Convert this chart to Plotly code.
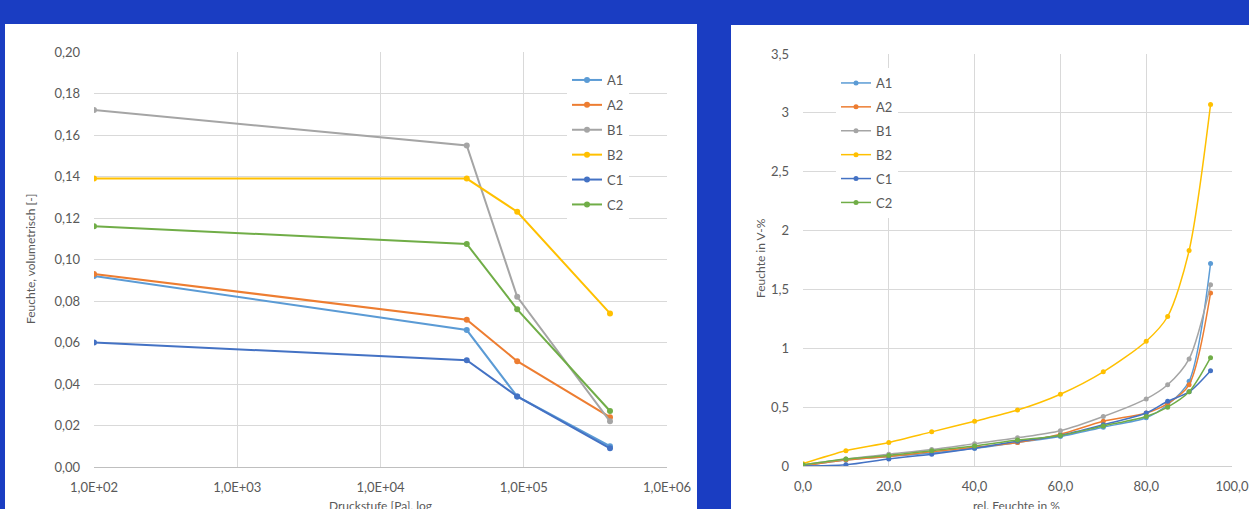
import plotly.graph_objects as go

W, H = 1249, 509

series_names = ["A1", "A2", "B1", "B2", "C1", "C2"]
series_colors = ["#5B9BD5", "#ED7D31", "#A5A5A5", "#FFC000", "#4472C4", "#70AD47"]

# Left chart: volumetric moisture vs. pressure step (log scale)
pressure_pa = [100, 40000, 90000, 400000]
a1_vol = [0.092, 0.066, 0.034, 0.010]
a2_vol = [0.093, 0.071, 0.051, 0.024]
b1_vol = [0.172, 0.155, 0.082, 0.022]
b2_vol = [0.139, 0.139, 0.123, 0.074]
c1_vol = [0.060, 0.0515, 0.034, 0.009]
c2_vol = [0.116, 0.1075, 0.076, 0.027]

# Right chart: moisture in V-% vs. relative humidity
rel_humidity = [0, 10, 20, 30, 40, 50, 60, 70, 80, 85, 90, 95]
a1_vpct = [0.00, 0.05, 0.08, 0.11, 0.15, 0.20, 0.25, 0.33, 0.41, 0.52, 0.72, 1.72]
a2_vpct = [0.00, 0.05, 0.08, 0.12, 0.16, 0.20, 0.27, 0.38, 0.45, 0.53, 0.69, 1.47]
b1_vpct = [0.01, 0.06, 0.10, 0.14, 0.19, 0.24, 0.30, 0.42, 0.57, 0.69, 0.91, 1.54]
b2_vpct = [0.02, 0.13, 0.20, 0.29, 0.38, 0.475, 0.61, 0.80, 1.06, 1.27, 1.83, 3.07]
c1_vpct = [0.00, 0.01, 0.06, 0.10, 0.15, 0.21, 0.26, 0.35, 0.45, 0.55, 0.63, 0.81]
c2_vpct = [0.01, 0.06, 0.09, 0.13, 0.17, 0.22, 0.26, 0.34, 0.42, 0.50, 0.63, 0.92]

# Tick labels
left_x_ticks = [1e2, 1e3, 1e4, 1e5, 1e6]
left_x_labels = ["1,0E+02", "1,0E+03", "1,0E+04", "1,0E+05", "1,0E+06"]
left_y_ticks = [0.00, 0.02, 0.04, 0.06, 0.08, 0.10, 0.12, 0.14, 0.16, 0.18, 0.20]
left_y_labels = ["0,00", "0,02", "0,04", "0,06", "0,08", "0,10", "0,12", "0,14", "0,16", "0,18", "0,20"]
right_x_ticks = [0, 20, 40, 60, 80, 100]
right_x_labels = ["0,0", "20,0", "40,0", "60,0", "80,0", "100,0"]
right_y_ticks = [0, 0.5, 1, 1.5, 2, 2.5, 3, 3.5]
right_y_labels = ["0", "0,5", "1", "1,5", "2", "2,5", "3", "3,5"]

left_series = [a1_vol, a2_vol, b1_vol, b2_vol, c1_vol, c2_vol]
right_series = [a1_vpct, a2_vpct, b1_vpct, b2_vpct, c1_vpct, c2_vpct]

TEXT = "#595959"
GRID = "#d9d9d9"
FONT = "Lato"
BG_BLUE = "#1a3dc2"

fig = go.Figure()

for name, color, vals in zip(series_names, series_colors, left_series):
    fig.add_trace(go.Scatter(
        x=pressure_pa, y=vals, name=name, mode="lines+markers",
        line=dict(color=color, width=2), marker=dict(color=color, size=6),
        xaxis="x", yaxis="y", legend="legend", legendgroup="L" + name,
    ))

for name, color, vals in zip(series_names, series_colors, right_series):
    fig.add_trace(go.Scatter(
        x=rel_humidity, y=vals, name=name, mode="lines+markers",
        line=dict(color=color, width=1.5, shape="spline", smoothing=0.8),
        marker=dict(color=color, size=5),
        xaxis="x2", yaxis="y2", legend="legend2", legendgroup="R" + name,
    ))


def px_x(p):
    return p / W


def px_y(p):
    return 1 - p / H


axis_common = dict(
    showgrid=True, gridcolor=GRID, gridwidth=1, zeroline=False, ticks="",
    tickfont=dict(family=FONT, size=13, color=TEXT), fixedrange=True,
    automargin=False, ticklabeloverflow="allow",
)

fig.update_layout(
    width=W, height=H,
    margin=dict(l=0, r=0, t=0, b=0, autoexpand=False),
    paper_bgcolor=BG_BLUE,
    plot_bgcolor="white",
    font=dict(family=FONT, color=TEXT),
    xaxis=dict(
        domain=[px_x(94), px_x(667)], anchor="y", type="log", range=[2, 6],
        tickvals=left_x_ticks, ticktext=left_x_labels,
        showline=True, linecolor="#bfbfbf", linewidth=1,
        ticklabelstandoff=8, **axis_common,
    ),
    yaxis=dict(
        domain=[px_y(467), px_y(52)], anchor="x", range=[0, 0.2],
        tickvals=left_y_ticks, ticktext=left_y_labels,
        ticklabelstandoff=13, **axis_common,
    ),
    xaxis2=dict(
        domain=[px_x(803), px_x(1232)], anchor="y2", range=[0, 100],
        tickvals=right_x_ticks, ticktext=right_x_labels,
        showline=True, linecolor="#d0d0d0", linewidth=1,
        ticklabelstandoff=8, **axis_common,
    ),
    yaxis2=dict(
        domain=[px_y(466), px_y(54)], anchor="x2", range=[0, 3.5],
        tickvals=right_y_ticks, ticktext=right_y_labels,
        ticklabelstandoff=13, **axis_common,
    ),
    legend=dict(
        x=px_x(567), y=px_y(65), xanchor="left", yanchor="top",
        bgcolor="white", font=dict(family=FONT, size=13, color=TEXT),
        tracegroupgap=5, itemwidth=30, itemclick=False, itemdoubleclick=False,
    ),
    legend2=dict(
        x=px_x(836), y=px_y(68), xanchor="left", yanchor="top",
        bgcolor="white", font=dict(family=FONT, size=13, color=TEXT),
        tracegroupgap=4, itemwidth=30, itemclick=False, itemdoubleclick=False,
    ),
    shapes=[
        dict(type="rect", xref="paper", yref="paper", layer="below",
             x0=px_x(5), x1=px_x(697), y0=-0.05, y1=px_y(24),
             fillcolor="white", line=dict(width=0)),
        dict(type="rect", xref="paper", yref="paper", layer="below",
             x0=px_x(731), x1=1.05, y0=-0.05, y1=px_y(25),
             fillcolor="white", line=dict(width=0)),
    ],
    annotations=[
        dict(text="Feuchte, volumetrisch [-]", x=px_x(30), y=px_y(259),
             xref="paper", yref="paper", textangle=-90, showarrow=False,
             xanchor="center", yanchor="middle",
             font=dict(family=FONT, size=12, color=TEXT)),
        dict(text="Druckstufe [Pa], log", x=px_x(380), y=px_y(505),
             xref="paper", yref="paper", showarrow=False,
             xanchor="center", yanchor="middle",
             font=dict(family=FONT, size=12, color=TEXT)),
        dict(text="Feuchte in V-%", x=px_x(760), y=px_y(258),
             xref="paper", yref="paper", textangle=-90, showarrow=False,
             xanchor="center", yanchor="middle",
             font=dict(family=FONT, size=12, color=TEXT)),
        dict(text="rel. Feuchte in %", x=px_x(1017), y=px_y(505),
             xref="paper", yref="paper", showarrow=False,
             xanchor="center", yanchor="middle",
             font=dict(family=FONT, size=12, color=TEXT)),
    ],
    showlegend=True,
)

fig.write_html("out.html")
